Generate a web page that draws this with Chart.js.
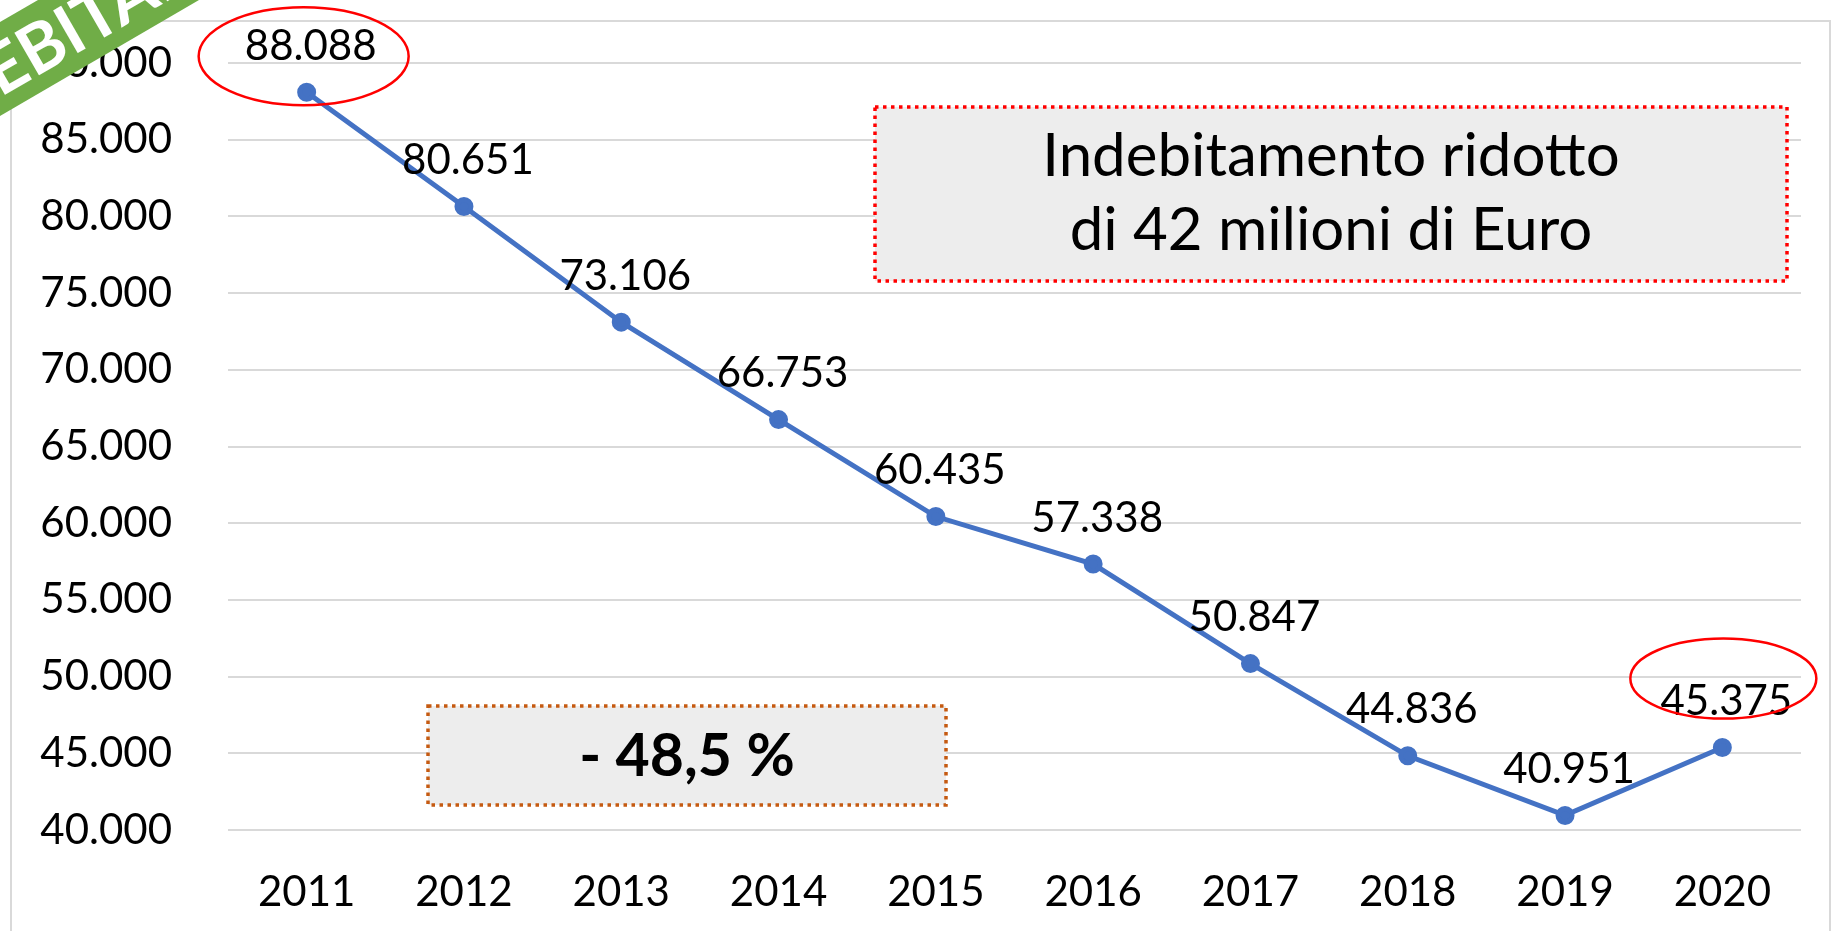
<!DOCTYPE html>
<html>
<head>
<meta charset="utf-8">
<script src="https://cdn.jsdelivr.net/npm/chart.js@4"></script>
<style>
  html, body { margin: 0; padding: 0; background: #fff; }
  #wrap { width: 1834px; height: 931px; }
</style>
</head>
<body>
<div id="wrap"><canvas id="myChart" width="1834" height="931"></canvas></div>
<script>
// dati
const anni = ['2011', '2012', '2013', '2014', '2015', '2016', '2017', '2018', '2019', '2020'];
const debito = [88088, 80651, 73106, 66753, 60435, 57338, 50847, 44836, 40951, 45375];
const yMin = 40000;
const yMax = 90000;
const yStep = 5000;
const boxTesto = ['Indebitamento ridotto', 'di 42 milioni di Euro'];
const boxPercento = '- 48,5 %';
const banner = 'INDEBITAMENTO';

const FONT = 'Lato, "Open Sans", sans-serif';

// 88088 -> "88.088"
function fmt(v) {
  return String(Math.round(v)).replace(/\B(?=(\d{3})+(?!\d))/g, '.');
}

function dottedBox(ctx, x1, y1, x2, y2, colore) {
  ctx.save();
  ctx.fillStyle = '#EDEDED';
  ctx.fillRect(x1, y1, x2 - x1, y2 - y1);
  ctx.strokeStyle = colore;
  ctx.lineWidth = 3.5;
  ctx.setLineDash([3.5, 4.5]);
  ctx.strokeRect(x1, y1, x2 - x1, y2 - y1);
  ctx.restore();
}

function ellisse(ctx, cx, cy, rx, ry) {
  ctx.save();
  ctx.strokeStyle = '#FF0000';
  ctx.lineWidth = 2.5;
  ctx.beginPath();
  ctx.ellipse(cx, cy, rx, ry, 0, 0, Math.PI * 2);
  ctx.stroke();
  ctx.restore();
}

// cornice, box, etichette, ellissi e fascia verde
const extra = {
  id: 'extra',
  beforeDraw(chart) {
    const ctx = chart.ctx;
    ctx.save();
    ctx.strokeStyle = '#D9D9D9';
    ctx.lineWidth = 2;
    ctx.strokeRect(11, 21, 1819, 940);
    ctx.restore();
  },
  beforeDatasetsDraw(chart) {
    const ctx = chart.ctx;
    dottedBox(ctx, 875, 107, 1787, 281, '#FF0000');
    dottedBox(ctx, 428, 706, 946, 805, '#C55A11');
    ctx.save();
    ctx.fillStyle = '#000';
    ctx.textAlign = 'center';
    ctx.textBaseline = 'middle';
    ctx.font = '60px ' + FONT;
    ctx.fillText(boxTesto[0], 1331, 157);
    ctx.fillText(boxTesto[1], 1331, 231);
    ctx.font = 'bold 59px ' + FONT;
    ctx.fillText(boxPercento, 687, 757);
    ctx.restore();
  },
  afterDatasetsDraw(chart) {
    const ctx = chart.ctx;
    const meta = chart.getDatasetMeta(0);
    ctx.save();
    ctx.fillStyle = '#000';
    ctx.textAlign = 'center';
    ctx.textBaseline = 'middle';
    ctx.font = '42px ' + FONT;
    meta.data.forEach((p, i) => {
      ctx.fillText(fmt(debito[i]), p.x + 4, p.y - 46);
    });
    ctx.restore();

    const primo = meta.data[0];
    const ultimo = meta.data[meta.data.length - 1];
    ellisse(ctx, primo.x - 3, primo.y - 36, 105, 49);
    ellisse(ctx, ultimo.x + 1, ultimo.y - 69, 93, 40);
  },
  afterDraw(chart) {
    const ctx = chart.ctx;
    ctx.save();
    // fascia verde a 30 gradi
    ctx.fillStyle = '#70AD47';
    ctx.beginPath();
    ctx.moveTo(0, 22);
    ctx.lineTo(38, 0);
    ctx.lineTo(199, 0);
    ctx.lineTo(0, 116);
    ctx.closePath();
    ctx.fill();
    ctx.beginPath();
    ctx.rect(0, 0, 199, 116);
    ctx.clip();
    ctx.translate(0, 69);
    ctx.rotate(-Math.PI / 6);
    ctx.fillStyle = '#fff';
    ctx.font = 'bold 68px ' + FONT;
    ctx.textBaseline = 'middle';
    ctx.textAlign = 'left';
    const w = ctx.measureText('IND').width;
    ctx.fillText(banner, -14 - w, 3);
    ctx.restore();
  }
};

const ctxLine = document.getElementById('myChart').getContext('2d');

new Chart(ctxLine, {
  type: 'line',
  data: {
    labels: anni,
    datasets: [
      {
        label: 'Indebitamento',
        data: debito,
        borderColor: '#4472C4',
        backgroundColor: '#4472C4',
        borderWidth: 5,
        pointRadius: 7,
        pointHoverRadius: 7,
        tension: 0
      }
    ]
  },
  options: {
    responsive: false,
    animation: false,
    layout: { padding: { top: 63, right: 33, left: 0, bottom: 0 } },
    plugins: {
      legend: { display: false },
      tooltip: { enabled: false }
    },
    scales: {
      x: {
        offset: true,
        grid: { display: false, drawTicks: false },
        border: { display: false },
        ticks: { color: '#000', font: { family: FONT, size: 42 }, padding: 37 },
        afterFit(s) { s.height = 101; }
      },
      y: {
        min: yMin,
        max: yMax,
        grid: { color: '#D9D9D9', lineWidth: 2, drawTicks: false },
        border: { display: false },
        ticks: {
          stepSize: yStep,
          color: '#000',
          font: { family: FONT, size: 42 },
          padding: 56,
          callback: (v) => fmt(v)
        },
        afterFit(s) {
          s.width = 228;
          s.paddingTop = 0;
          s.paddingBottom = 0;
        }
      }
    }
  },
  plugins: [extra]
});
</script>
</body>
</html>
